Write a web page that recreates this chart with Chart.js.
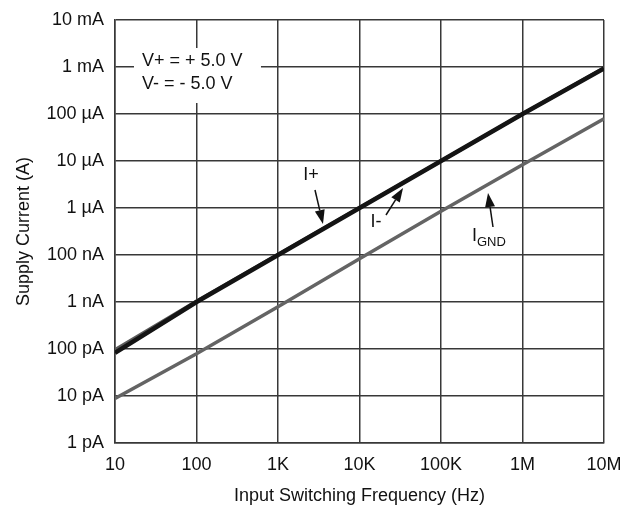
<!DOCTYPE html>
<html>
<head>
<meta charset="utf-8">
<script src="https://cdn.jsdelivr.net/npm/chart.js@4/dist/chart.umd.min.js"></script>
<style>
  html, body { margin: 0; padding: 0; background: #fff; }
  #wrap { width: 620px; height: 510px; }
</style>
</head>
<body>
<div id="wrap"><canvas id="grafico"></canvas></div>
<script>
// Datos (posiciones sobre la rejilla de décadas regulares)
const frecuencias = [10, 100, 1e3, 1e4, 1e5, 1e6, 1e7];
const iPlus = [8.3e-11, 1e-9, 1e-8, 1e-7, 1e-6, 1e-5, 9.3e-5];
const iMinus = [9.6e-11, 1.04e-9, 1.02e-8, 1.01e-7, 1e-6, 1e-5, 9.5e-5];
const iGnd = [8.9e-12, 7.9e-11, 7.9e-10, 8.3e-9, 8.5e-8, 8.3e-7, 7.9e-6];

const xTickLabels = ["10", "100", "1K", "10K", "100K", "1M", "10M"];
const yTickValues = [1e-12, 1e-11, 1e-10, 1e-9, 1e-8, 1e-7, 1e-6, 1e-5, 1e-4, 1e-3];
const yTickLabels = ["1 pA", "10 pA", "100 pA", "1 nA", "100 nA", "1 µA", "10 µA", "100 µA", "1 mA", "10 mA"];

const FUENTE = "'Liberation Sans', Arial, sans-serif";
const colorRejilla = "#383838";

// Anotaciones en [log10(f), log10(A)]
const cajaTension = { desde: [1.233, -3.596], hasta: [2.791, -4.766] };
const textosTension = [
    { texto: "V+ = + 5.0 V", pos: [1.331, -3.872] },
    { texto: "V- = - 5.0 V", pos: [1.331, -4.362] }
];
const flechas = [
    { etiqueta: "I+", sub: "", pos: [3.405, -6.298], desde: [3.454, -6.617], punta: [3.552, -7.340] },
    { etiqueta: "I-", sub: "", pos: [4.202, -7.298], desde: [4.325, -7.149], punta: [4.534, -6.574] },
    { etiqueta: "I", sub: "GND", pos: [5.380, -7.596], desde: [5.638, -7.404], punta: [5.577, -6.681], izquierda: true }
];

function aPixel(chart, p) {
    return {
        x: chart.scales.x.getPixelForValue(Math.pow(10, p[0])),
        y: chart.scales.y.getPixelForValue(Math.pow(10, p[1]))
    };
}

const pluginAnotaciones = {
    id: "anotaciones",
    afterDatasetsDraw(chart) {
        const c = chart.ctx;
        c.save();
        // Caja blanca con las tensiones
        const a = aPixel(chart, cajaTension.desde);
        const b = aPixel(chart, cajaTension.hasta);
        c.fillStyle = "#fff";
        c.fillRect(a.x, a.y, b.x - a.x, b.y - a.y);
        c.fillStyle = "#111";
        c.font = "18px " + FUENTE;
        c.textBaseline = "middle";
        c.textAlign = "left";
        textosTension.forEach(t => {
            const p = aPixel(chart, t.pos);
            c.fillText(t.texto, p.x, p.y);
        });

        // Flechas con etiquetas
        flechas.forEach(f => {
            const p = aPixel(chart, f.pos);
            c.font = "18px " + FUENTE;
            c.textAlign = f.izquierda ? "left" : "center";
            c.fillText(f.etiqueta, p.x, p.y);
            if (f.sub) {
                const w = c.measureText(f.etiqueta).width;
                c.font = "13px " + FUENTE;
                c.textAlign = "left";
                c.fillText(f.sub, p.x + w, p.y + 6);
            }
            const d = aPixel(chart, f.desde);
            const t = aPixel(chart, f.punta);
            const ang = Math.atan2(t.y - d.y, t.x - d.x);
            const largo = 14, ancho = 5;
            const bx = t.x - largo * Math.cos(ang);
            const by = t.y - largo * Math.sin(ang);
            c.strokeStyle = "#111";
            c.lineWidth = 1.5;
            c.beginPath();
            c.moveTo(d.x, d.y);
            c.lineTo(bx, by);
            c.stroke();
            c.beginPath();
            c.moveTo(t.x, t.y);
            c.lineTo(bx + ancho * Math.sin(ang), by - ancho * Math.cos(ang));
            c.lineTo(bx - ancho * Math.sin(ang), by + ancho * Math.cos(ang));
            c.closePath();
            c.fill();
        });
        c.restore();
    }
};

function serie(valores) {
    return frecuencias.map((f, i) => ({ x: f, y: valores[i] }));
}

const ctx = document.getElementById("grafico").getContext("2d");
// Chart.js pinta el primer dataset encima: I+ primero
const grafico = new Chart(ctx, {
    type: "line",
    data: {
        datasets: [
            { label: "I+", data: serie(iPlus), borderColor: "#141414", borderWidth: 4.5 },
            { label: "I-", data: serie(iMinus), borderColor: "#5a5a5a", borderWidth: 3.5 },
            { label: "IGND", data: serie(iGnd), borderColor: "#646464", borderWidth: 3.5 }
        ]
    },
    options: {
        responsive: true,
        maintainAspectRatio: false,
        animation: false,
        layout: { padding: { top: 20, right: 16, left: 0, bottom: 0 } },
        elements: { point: { radius: 0 }, line: { tension: 0 } },
        plugins: { legend: { display: false }, tooltip: { enabled: false } },
        scales: {
            x: {
                type: "logarithmic",
                min: 10,
                max: 1e7,
                afterBuildTicks(scale) {
                    scale.ticks = frecuencias.map(v => ({ value: v }));
                },
                afterFit(scale) {
                    scale.height = 67;
                    scale.paddingLeft = 0;
                    scale.paddingRight = 0;
                },
                ticks: {
                    autoSkip: false,
                    maxRotation: 0,
                    padding: 11,
                    color: "#111",
                    font: { family: FUENTE, size: 18 },
                    callback: (v, i) => xTickLabels[i]
                },
                grid: { color: colorRejilla, lineWidth: 1.5, drawTicks: false },
                border: { color: colorRejilla, width: 1.5 },
                title: {
                    display: true,
                    text: "Input Switching Frequency (Hz)",
                    color: "#111",
                    font: { family: FUENTE, size: 18 },
                    padding: { top: 0, bottom: 3 }
                }
            },
            y: {
                type: "logarithmic",
                min: 1e-12,
                max: 1e-3,
                afterBuildTicks(scale) {
                    scale.ticks = yTickValues.map(v => ({ value: v }));
                },
                afterFit(scale) {
                    scale.width = 115;
                    scale.paddingTop = 0;
                    scale.paddingBottom = 0;
                },
                ticks: {
                    autoSkip: false,
                    padding: 11,
                    color: "#111",
                    font: { family: FUENTE, size: 18 },
                    callback: (v, i) => yTickLabels[i]
                },
                grid: { color: colorRejilla, lineWidth: 1.5, drawTicks: false },
                border: { color: colorRejilla, width: 1.5 },
                title: {
                    display: true,
                    text: "Supply Current (A)",
                    color: "#111",
                    font: { family: FUENTE, size: 18 },
                    padding: { top: 13, bottom: 0 }
                }
            }
        }
    },
    plugins: [pluginAnotaciones]
});
</script>
</body>
</html>
